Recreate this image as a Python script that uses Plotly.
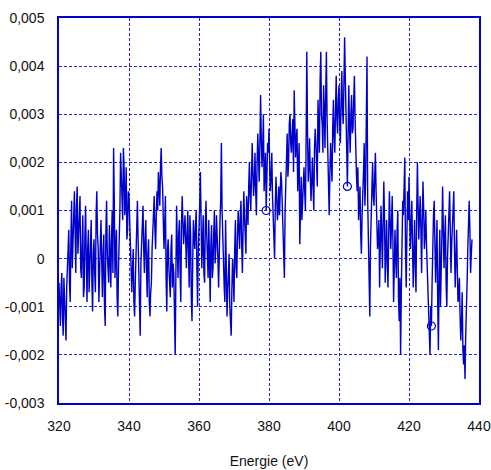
import plotly.graph_objects as go

# Spectrum sampled every 0.4 eV starting at 320 eV (values in units of 1e-4)
start_energy = 320.0
energy_step = 0.4
signal_1e4 = [
    # 320 - 330 eV
    -5, -14, -3, -16, -8, -17, -2, 6, -9, 12, 2, 14, -3, 15, 5, 13, -4, 9, -6, 11, -9, 6, -2, 8, -11,
    # 330 - 340 eV
    4, -7, 14, 2, -5, 8, -8, 5, -14, 12, -3, 7, -6, 10, 23, -4, 6, -12, 3, 22, 14, 23, 9, 19, 6,
    # 340 - 350 eV
    13, 3, -7, 2, -12, 3, 12, -4, -16, 5, 11, -3, 8, -8, 4, -12, -5, 7, 13, 2, 14, 18, 11, 23, 15,
    # 350 - 360 eV
    2, 13, -11, 4, -5, 2, -6, -3, -20, 11, -4, 8, -9, 13, 3, 9, -2, 10, -6, 5, -13, 8, 2, 10, -10,
    # 360 - 370 eV
    5, 18, -2, 9, -5, 12, 1, 8, -9, 7, -2, 10, 2, 6, -6, 8, 24, 2, -6, 8, -12, -4, -10, -16, 0,
    # 370 - 380 eV
    -9, 8, -4, 10, 2, 12, -3, 14, 5, 13, 7, 20, 10, 24, 13, 22, 9, 26, 16, 34, 19, 30, 18, 10, 24,
    # 380 - 390 eV
    27, 14, 22, 9, 0, 17, 8, 15, 12, 16, 7, -4, 14, 26, 20, 30, 22, 29, 35, 21, 27, 20, 3, 17, 12,
    # 390 - 400 eV
    19, 10, 43, 16, 25, 12, 21, 10, 27, 19, 33, 22, 43, 28, 36, 23, 43, 20, 9, 24, 16, 33, 22, 38, 26,
    # 400 - 410 eV
    36, 24, 39, 28, 46, 30, 15, 36, 22, 34, 27, 38, 21, 14, 8, 15, 1, 12, 24, 16, 42, 6, -12, 9, 20,
    # 410 - 420 eV
    11, 22, 9, 4, -6, 11, -2, 16, -5, 8, -6, 14, 2, 13, -9, 6, -4, 10, -13, -20, 3, 9, 21, -6, 14,
    # 420 - 430 eV
    17, 2, 12, -6, 8, -7, 20, 4, 13, -3, 16, 2, 10, -1, -12, -20, -14, 4, 12, -5, 8, -19, 6, -4, 15,
    # 430 - 438 eV
    -2, 9, -10, 5, 14, -3, 8, 14, -6, 6, -9, -4, -17, -7, -22, -25, -12, 2, 12, -3, 4,
]

# Intermediate samples, halfway between the ones above (320.2, 320.6, ... eV)
signal_mid_1e4 = [
    # 320 - 330 eV
    -10, -6, -12, -4, -13, -6, 2, -5, 4, -2, 9, 6, 11, 1, 8, -2, 3, -8, 5, 0, 2, -7, 4, -5, 1,
    # 330 - 340 eV
    -3, 9, 5, -9, 3, -2, 1, -10, 6, 1, -5, 2, 4, -3, 12, 1, -8, -2, 10, 17, 8, 19, 12, 4, 14,
    # 340 - 350 eV
    7, -3, -2, -9, -5, 8, 4, -10, -1, 7, 2, 4, -2, 1, -9, -7, 2, 10, 6, 9, 10, 15, 19, 17, 8,
    # 350 - 360 eV
    7, -4, 2, -2, -8, 5, -1, -12, -3, 3, 5, -3, 7, 8, 6, 4, 5, 1, 9, -8, -1, 4, 7, -2, 2,
    # 360 - 370 eV
    11, 6, 3, -3, 7, 5, -4, 2, 3, -4, 5, -1, 9, 0, 4, 12, 10, -3, -9, -2, -7, 1, -13, -6, -4,
    # 370 - 380 eV
    2, -2, 5, 6, 9, 3, 6, 9, 1, 10, 15, 13, 17, 18, 16, 14, 20, 21, 24, 25, 23, 14, 22, 19, 22,
    # 380 - 390 eV
    19, 17, 13, 5, 11, 13, 10, 9, 18, 10, 3, 10, 20, 17, 28, 24, 26, 18, 28, 25, 14, 24, 11, 8, 15,
    # 390 - 400 eV
    14, 24, 27, 19, 17, 16, 15, 23, 24, 15, 26, 37, 30, 22, 31, 34, 29, 14, 18, 20, 27, 25, 31, 29, 33,
    # 400 - 410 eV
    28, 33, 31, 36, 38, 24, 26, 27, 30, 26, 33, 29, 17, 19, 11, 5, 9, 18, 11, 30, 12, -3, 3, 15, 13,
    # 410 - 420 eV
    17, 14, 2, 8, 3, 5, 7, 9, 1, -1, 5, 8, 7, 4, -2, 0, 6, -8, -4, -7, 12, 14, 2, 5, 8,
    # 420 - 430 eV
    9, 7, 3, 1, -2, 10, 11, 9, 6, 8, 10, 5, 3, -7, -16, -10, -5, 9, 3, 1, -9, -3, -10, 5, 8,
    # 430 - 438 eV
    4, -5, 0, 10, 6, 3, 12, 2, 0, -2, -8, -12, -13, -19, -18, -16, -5, 8, 6, 1,
]

# Energies at which the trace is flagged with open circles
flagged_energies = [379.2, 402.4, 426.4]

y_tick_values = [-0.003, -0.002, -0.001, 0, 0.001, 0.002, 0.003, 0.004, 0.005]
y_tick_labels = ["-0,003", "-0,002", "-0,001", "0", "0,001", "0,002", "0,003", "0,004", "0,005"]
x_tick_values = [320, 340, 360, 380, 400, 420, 440]
x_tick_labels = ["320", "340", "360", "380", "400", "420", "440"]

# Merge the two sample sets into a single 0.2 eV series
energy, signal = [], []
for i, v in enumerate(signal_1e4):
    energy.append(round(start_energy + energy_step * i, 1))
    signal.append(v * 1e-4)
    if i < len(signal_mid_1e4):
        energy.append(round(start_energy + energy_step * i + energy_step / 2, 1))
        signal.append(signal_mid_1e4[i] * 1e-4)

flag_idx = [energy.index(e) for e in flagged_energies]
flag_x = [energy[i] for i in flag_idx]
flag_y = [signal[i] for i in flag_idx]

blue = "#0000cc"
grid_blue = "#2222dd"
font = dict(family="Liberation Sans, Arial, sans-serif", size=14, color="#111111")

fig = go.Figure()
fig.add_trace(go.Scatter(
    x=energy, y=signal, mode="lines",
    line=dict(color=blue, width=1.4),
    showlegend=False,
))
fig.add_trace(go.Scatter(
    x=flag_x, y=flag_y, mode="markers",
    marker=dict(symbol="circle-open", size=8, color=blue, line=dict(width=1.2, color=blue)),
    showlegend=False,
))

axis_common = dict(
    showline=True, linecolor=blue, linewidth=1.5, mirror=True,
    showgrid=True, gridcolor=grid_blue, gridwidth=1, griddash="3px,2px",
    zeroline=False, ticks="", tickfont=font, automargin=False,
)

fig.update_layout(
    width=491, height=470,
    margin=dict(l=59, r=12, t=18, b=67),
    paper_bgcolor="white", plot_bgcolor="white",
    font=font,
    xaxis=dict(
        range=[320, 440], tickvals=x_tick_values, ticktext=x_tick_labels,
        ticklabelstandoff=9,
        title=dict(text="Energie (eV)", font=font, standoff=24),
        **axis_common,
    ),
    yaxis=dict(
        range=[-0.003, 0.005], tickvals=y_tick_values, ticktext=y_tick_labels,
        ticklabelstandoff=10,
        **axis_common,
    ),
)

fig.write_html("out.html")
